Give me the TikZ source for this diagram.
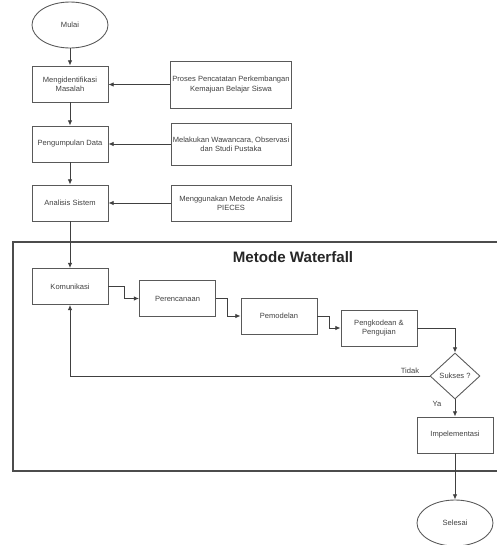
\documentclass[tikz,border=0pt]{standalone}
\usepackage{fontspec}
\setmainfont{Liberation Sans}
\usetikzlibrary{shapes.geometric,arrows.meta,positioning}

\begin{document}
\begin{tikzpicture}[x=0.02cm, y=-0.02cm,
    font=\fontsize{4.3}{5.2}\selectfont,
    box/.style={rectangle, draw=black!65, line width=0.5pt, text=black!75, align=center, inner sep=1pt, minimum width=1.52cm, minimum height=0.72cm},
    bigbox/.style={box, minimum width=2.4cm},
    terminal/.style={ellipse, draw=black!65, line width=0.5pt, text=black!75, inner sep=0pt, minimum width=1.52cm, minimum height=0.92cm},
    decision/.style={diamond, draw=black!65, line width=0.5pt, text=black!75, inner sep=0pt, minimum width=1.0cm, minimum height=0.92cm},
    ptr/.style={-{Latex[length=3pt,width=2.6pt]}, draw=black!75, line width=0.5pt},
    lbl/.style={text=black!75}
]
    \useasboundingbox (0,0) rectangle (497,545);

    % Alur awal
    \node[terminal] (mulai) at (70,25) {Mulai};
    \node[box] (identifikasi) at (70,84) {Mengidentifikasi\\Masalah};
    \node[box] (pengumpulan) at (70,144) {Pengumpulan Data};
    \node[box] (analisis) at (70,203) {Analisis Sistem};
    \draw[ptr] (mulai) -- (identifikasi);
    \draw[ptr] (identifikasi) -- (pengumpulan);
    \draw[ptr] (pengumpulan) -- (analisis);

    % Masukan
    \node[bigbox, minimum height=0.94cm] (proses) at (231,84.5) {Proses Pencatatan Perkembangan\\Kemajuan Belajar Siswa};
    \node[bigbox, minimum height=0.84cm] (wawancara) at (231,144) {Melakukan Wawancara, Observasi\\dan Studi Pustaka};
    \node[bigbox] (pieces) at (231,203) {Menggunakan Metode Analisis\\PIECES};
    \draw[ptr] (proses.west) -- (identifikasi.east |- proses.west);
    \draw[ptr] (wawancara) -- (pengumpulan);
    \draw[ptr] (pieces) -- (analisis);

    % Metode Waterfall
    \draw[black!70, line width=0.6pt] (13,242) rectangle (499,471);
    \node[font=\fontsize{8.6}{10}\selectfont\bfseries, text=black!85] (judul) at (293,257) {Metode Waterfall};
    \node[box] (komunikasi) at (70,286.5) {Komunikasi};
    \node[box] (perencanaan) at (177.5,298.5) {Perencanaan};
    \node[box] (pemodelan) at (279,316) {Pemodelan};
    \node[box] (pengkodean) at (379,328) {Pengkodean \&\\Pengujian};
    \node[decision] (sukses) at (455,376) {Sukses ?};
    \node[box] (implementasi) at (455,435) {Impelementasi};
    \draw[ptr] (analisis) -- (komunikasi);
    \draw[ptr] (komunikasi.east) -- ++(16,0) |- (perencanaan.west);
    \draw[ptr] (perencanaan.east) -- ++(12,0) |- (pemodelan.west);
    \draw[ptr] (pemodelan.east) -- ++(12,0) |- (pengkodean.west);
    \draw[ptr] (pengkodean.east) -| (sukses.north);
    \draw[ptr] (sukses.west) -| (komunikasi.south);
    \draw[ptr] (sukses) -- (implementasi);
    \node[lbl] (tidak) at (410,371) {Tidak};
    \node[lbl] (ya) at (437,404) {Ya};

    % Akhir
    \node[terminal] (selesai) at (455,523) {Selesai};
    \draw[ptr] (implementasi) -- (selesai);
\end{tikzpicture}
\end{document}
